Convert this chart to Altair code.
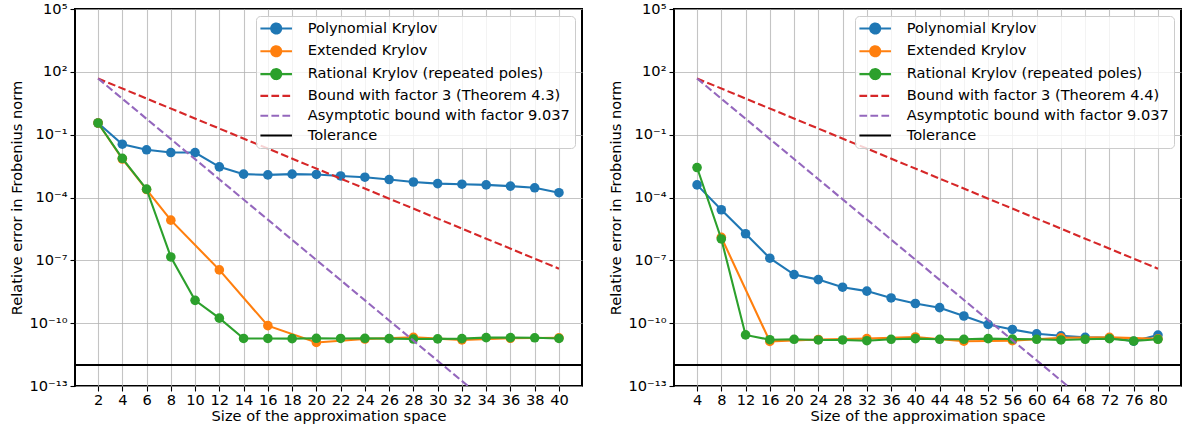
import altair as alt
import pandas as pd

FONT = "DejaVu Sans"
FS = 14.6

COLORS = ["#1f77b4", "#ff7f0e", "#2ca02c", "#d62728", "#9467bd", "#000000"]

LABELS_LEFT = [
    "Polynomial Krylov",
    "Extended Krylov",
    "Rational Krylov (repeated poles)",
    "Bound with factor 3 (Theorem 4.3)",
    "Asymptotic bound with factor 9.037",
    "Tolerance",
]
LABELS_RIGHT = [
    "Polynomial Krylov",
    "Extended Krylov",
    "Rational Krylov (repeated poles)",
    "Bound with factor 3 (Theorem 4.4)",
    "Asymptotic bound with factor 9.037",
    "Tolerance",
]

# ---------------- left panel ----------------
left_poly_x = [2, 4, 6, 8, 10, 12, 14, 16, 18, 20, 22, 24, 26, 28, 30, 32, 34, 36, 38, 40]
left_poly_y = [3.6e-1, 3.5e-2, 1.9e-2, 1.4e-2, 1.4e-2, 2.9e-3, 1.3e-3, 1.2e-3, 1.3e-3, 1.26e-3,
               1.07e-3, 9.3e-4, 7.2e-4, 5.5e-4, 4.6e-4, 4.3e-4, 4.0e-4, 3.5e-4, 2.9e-4, 1.7e-4]
left_ext_x = [2, 4, 6, 8, 12, 16, 20, 24, 28, 32, 36, 40]
left_ext_y = [3.6e-1, 6.9e-3, 2.4e-4, 8.3e-6, 3.5e-8, 7.6e-11, 1.2e-11, 1.74e-11, 2.1e-11,
              1.6e-11, 1.9e-11, 2.0e-11]
left_rat_x = [2, 4, 6, 8, 10, 12, 14, 16, 18, 20, 22, 24, 26, 28, 30, 32, 34, 36, 38, 40]
left_rat_y = [3.6e-1, 7.4e-3, 2.5e-4, 1.45e-7, 1.23e-9, 1.74e-10, 1.86e-11, 1.86e-11, 1.82e-11,
              1.9e-11, 1.86e-11, 1.9e-11, 1.82e-11, 1.74e-11, 1.78e-11, 1.82e-11, 2.04e-11,
              2.04e-11, 2.0e-11, 1.86e-11]
left_bound_x = [2, 40]
left_bound_y = [48, 4.0e-8]
left_asym_x = [2, 32.5]
left_asym_y = [48, 1e-13]
left_ticks = [2, 4, 6, 8, 10, 12, 14, 16, 18, 20, 22, 24, 26, 28, 30, 32, 34, 36, 38, 40]
left_domain = [0.1, 41.9]

# ---------------- right panel ----------------
right_poly_x = [4, 8, 12, 16, 20, 24, 28, 32, 36, 40, 44, 48, 52, 56, 60, 64, 68, 72, 76, 80]
right_poly_y = [4.0e-4, 2.6e-5, 1.86e-6, 1.26e-7, 2.1e-8, 1.2e-8, 5.2e-9, 3.4e-9, 1.6e-9, 8.7e-10,
                5.5e-10, 2.2e-10, 8.7e-11, 5.0e-11, 3.1e-11, 2.5e-11, 2.1e-11, 2.0e-11, 1.38e-11,
                2.7e-11]
right_ext_x = [8, 16, 24, 32, 40, 48, 56, 64, 72, 80]
right_ext_y = [1.26e-6, 1.35e-11, 1.66e-11, 1.82e-11, 2.2e-11, 1.38e-11, 1.45e-11, 2.0e-11,
               2.1e-11, 1.78e-11]
right_rat_x = [4, 8, 12, 16, 20, 24, 28, 32, 36, 40, 44, 48, 52, 56, 60, 64, 68, 72, 76, 80]
right_rat_y = [2.7e-3, 1.05e-6, 2.75e-11, 1.62e-11, 1.7e-11, 1.58e-11, 1.58e-11, 1.45e-11,
               1.7e-11, 1.82e-11, 1.7e-11, 1.7e-11, 1.82e-11, 1.74e-11, 1.7e-11, 1.58e-11,
               1.7e-11, 1.82e-11, 1.41e-11, 1.7e-11]
right_bound_x = [4, 80]
right_bound_y = [48, 4.0e-8]
right_asym_x = [4, 65.1]
right_asym_y = [48, 1e-13]
right_ticks = [4, 8, 12, 16, 20, 24, 28, 32, 36, 40, 44, 48, 52, 56, 60, 64, 68, 72, 76, 80]
right_domain = [0.2, 83.8]

tolerance = 1e-12
y_ticks = [1e5, 1e2, 1e-1, 1e-4, 1e-7, 1e-10, 1e-13]

SUP = ("'10' + replace(replace(replace(replace(replace(replace(replace(replace("
       "'' + round(log(datum.value)/LN10), '-', '\u207b'), '1', '\u00b9'), '0', '\u2070'),"
       " '3', '\u00b3'), '4', '\u2074'), '7', '\u2077'), '5', '\u2075'), '2', '\u00b2')")

# legend symbol paths (unit = sqrt(symbolSize)/2 pixels)
LINE_CIRCLE = "M-2.63,0H2.63M0.83,0A0.83,0.83,0,1,1,-0.83,0A0.83,0.83,0,1,1,0.83,0Z"
LINE_ONLY = "M-2.63,0H2.63"
LW = 2.1


def make_legend(labels):
    marker_test = " || ".join("datum.value == '%s'" % l for l in labels[:3])
    dash_test = " || ".join("datum.value == '%s'" % l for l in labels[3:5])
    color_expr = "".join("datum.value == '%s' ? '%s' : " % (l, c) for l, c in zip(labels, COLORS)) + "'black'"
    return alt.Legend(
        title=None,
        orient="top-right",
        offset=7,
        fillColor="rgba(255,255,255,0.8)",
        strokeColor="#cccccc",
        cornerRadius=4,
        padding=5,
        labelFont=FONT,
        labelFontSize=FS,
        labelColor="black",
        labelLimit=0,
        labelOffset=24,
        symbolOffset=7.7,
        symbolSize=144,
        symbolStrokeWidth=LW,
        symbolOpacity=1,
        rowPadding=3.8,
        symbolLimit=0,
        symbolType=alt.ExprRef(expr="(%s) ? '%s' : '%s'" % (marker_test, LINE_CIRCLE, LINE_ONLY)),
        symbolDash=alt.ExprRef(expr="(%s) ? [7.7, 3.3] : [1, 0]" % dash_test),
        symbolFillColor=alt.ExprRef(expr=color_expr),
        symbolStrokeColor=alt.ExprRef(expr=color_expr),
    )


def panel(labels, series, bound, asym, ticks, domain, title_y):
    legend = make_legend(labels)
    color = alt.Color("series:N", scale=alt.Scale(domain=labels, range=COLORS), legend=legend)
    x = alt.X(
        "x:Q",
        scale=alt.Scale(domain=domain, nice=False, zero=False),
        axis=alt.Axis(values=ticks, title="Size of the approximation space", labelAngle=0,
                      format="d", grid=True, labelPadding=1),
    )
    y = alt.Y(
        "y:Q",
        scale=alt.Scale(type="log", domain=[1e-13, 1e5], nice=False),
        axis=alt.Axis(values=y_ticks, labelExpr=SUP, title=title_y, grid=True),
    )
    layers = []
    for lbl, xs, ys in series:
        df = pd.DataFrame({"x": xs, "y": ys, "series": lbl})
        base = alt.Chart(df)
        layers.append(base.mark_line(strokeWidth=LW, clip=True).encode(x=x, y=y, color=color))
        layers.append(base.mark_circle(size=92, opacity=1, clip=True).encode(x=x, y=y, color=color))
    for lbl, xs, ys in [(labels[3],) + bound, (labels[4],) + asym]:
        df = pd.DataFrame({"x": xs, "y": ys, "series": lbl})
        layers.append(alt.Chart(df).mark_line(strokeWidth=LW, strokeDash=[7.7, 3.3], clip=True)
                      .encode(x=x, y=y, color=color))
    tol_df = pd.DataFrame({"y": [tolerance], "series": [labels[5]]})
    layers.append(alt.Chart(tol_df).mark_rule(strokeWidth=LW).encode(y=y, color=color))
    return alt.layer(*layers).properties(width=507, height=377)


left = panel(
    LABELS_LEFT,
    [(LABELS_LEFT[0], left_poly_x, left_poly_y),
     (LABELS_LEFT[1], left_ext_x, left_ext_y),
     (LABELS_LEFT[2], left_rat_x, left_rat_y)],
    (left_bound_x, left_bound_y),
    (left_asym_x, left_asym_y),
    left_ticks, left_domain, "Relative error in Frobenius norm",
)
right = panel(
    LABELS_RIGHT,
    [(LABELS_RIGHT[0], right_poly_x, right_poly_y),
     (LABELS_RIGHT[1], right_ext_x, right_ext_y),
     (LABELS_RIGHT[2], right_rat_x, right_rat_y)],
    (right_bound_x, right_bound_y),
    (right_asym_x, right_asym_y),
    right_ticks, right_domain, "Relative error in Frobenius norm",
)

chart = (
    alt.hconcat(left, right, spacing=22)
    .resolve_scale(color="independent")
    .configure(font=FONT, padding={"left": 8, "top": 0, "right": 3, "bottom": 5})
    .configure_view(stroke="black", strokeWidth=2)
    .configure_axis(
        labelFont=FONT, titleFont=FONT, labelFontSize=FS, titleFontSize=FS,
        labelColor="black", titleColor="black", titleFontWeight="normal",
        domain=False, tickColor="black", tickSize=5, tickWidth=1.1,
        gridColor="#b0b0b0", gridWidth=1.1, gridOpacity=0.75, labelPadding=3,
    )
    .configure_axisY(titlePadding=5)
    .configure_axisX(titlePadding=2)
)

chart.save("out.html", embed_options={"renderer": "svg", "actions": False})
